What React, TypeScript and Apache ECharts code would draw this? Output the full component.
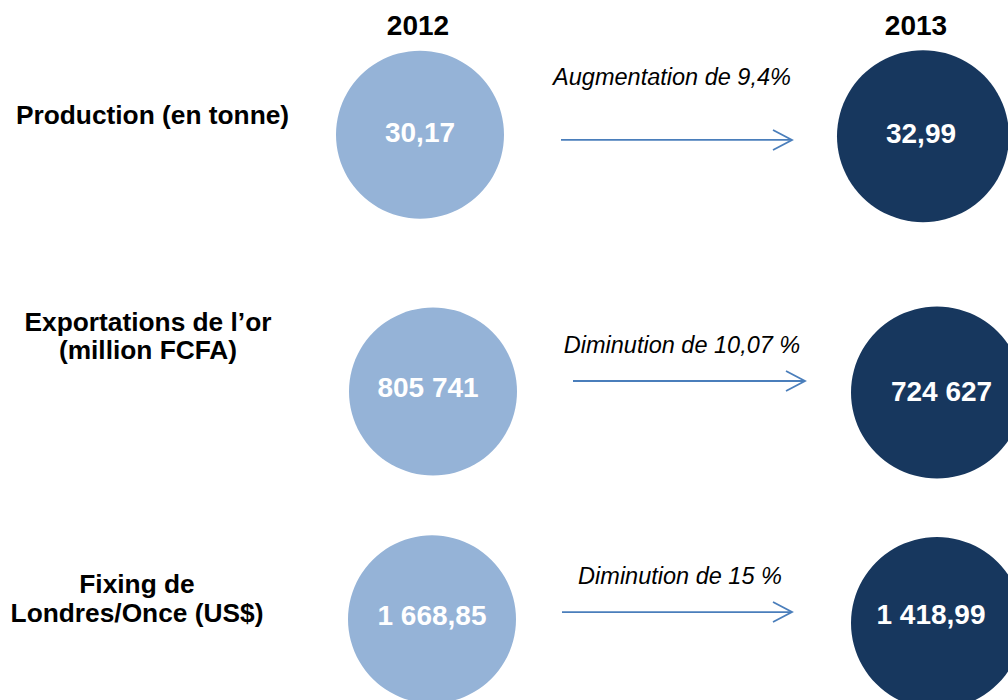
import React, { useEffect, useRef } from "react";
import * as echarts from "echarts";

// ---- data ----
const years = ["2012", "2013"];
const indicators = [
  "Production (en tonne)",
  "Exportations de l’or\n(million FCFA)",
  "Fixing de\nLondres/Once (US$)",
];
const values2012 = [30.17, 805741, 1668.85];
const values2013 = [32.99, 724627, 1418.99];
const decimals = [2, 0, 2];
const changeLabels = [
  "Augmentation de 9,4%",
  "Diminution de 10,07 %",
  "Diminution de 15 %",
];

// ---- layout / style ----
const FONT = "'Liberation Sans', Arial, Helvetica, sans-serif";
const LIGHT = "#95B3D7";
const DARK = "#17375E";
const ARROW = "#4A7EBB";
const offsets2012 = [[-12.5, 0], [0.5, 13.5], [-0.5, -2]];
const offsets2013 = [[-14.5, 1.5], [-0.5, 14.5], [-0.5, 1.7]];
const labelOff2012 = [[0, -2], [-5, -4], [0, -4]];
const labelOff2013 = [[-2, -3], [4.5, -1], [-6, -9]];
const arrowLayout = [
  { x0: 128.5, x1: 359.5, ay: 5.3, tx: 239.5, ty: -57.7, lx: -280, ly: -19.7 },
  { x0: 140.5, x1: 372.5, ay: 3, tx: 249.5, ty: -33, lx: -284.5, ly: -42 },
  { x0: 129.5, x1: 359.5, ay: -9.3, tx: 247.5, ty: -45.3, lx: -295.5, ly: -22.8 },
];
const yearPad = [
  [0, 29, 0, 0],
  [0, 43, 0, 0],
];

function frNum(v: number, d: number): string {
  const s = v.toFixed(d);
  const parts = s.split(".");
  const intS = parts[0].replace(/\B(?=(\d{3})+(?!\d))/g, " ");
  return parts[1] ? intS + "," + parts[1] : intS;
}

function circleSeries(vals: number[], yearIdx: number, size: number, color: string, offs: number[][], lOffs: number[][]) {
  return {
    type: "scatter",
    clip: false,
    z: 2,
    symbol: "circle",
    symbolSize: size,
    itemStyle: { color, opacity: 1 },
    label: {
      show: true,
      position: "inside",
      color: "#ffffff",
      fontFamily: FONT,
      fontWeight: "bold",
      fontSize: 28,
      formatter: (p: any) => frNum(p.value[2], decimals[p.value[1]]),
    },
    data: vals.map((v, i) => ({
      value: [yearIdx, i, v],
      symbolOffset: offs[i],
      label: { offset: lOffs[i] },
    })),
  };
}

export default function App() {
  const ref = useRef<HTMLDivElement>(null);
  useEffect(() => {
    if (!ref.current) return;
    const chart = echarts.init(ref.current, null, { renderer: "svg" });
    const option: any = {
      animation: false,
      backgroundColor: "#ffffff",
      grid: { left: 180, top: 13, width: 1010, height: 730, containLabel: false, outerBoundsMode: "none" },
      xAxis: {
        type: "category",
        position: "top",
        data: years.map((y, i) => ({ value: y, textStyle: { padding: yearPad[i], align: "center", verticalAlign: "middle" } })),
        boundaryGap: true,
        axisLine: { show: false },
        axisTick: { show: false },
        splitLine: { show: false },
        axisLabel: {
          margin: -12,
          align: "center",
          verticalAlign: "middle",
          color: "#000",
          fontFamily: FONT,
          fontWeight: "bold",
          fontSize: 28,
        },
      },
      yAxis: {
        type: "category",
        inverse: true,
        data: indicators,
        axisLine: { show: false },
        axisTick: { show: false },
        splitLine: { show: false },
        axisLabel: { show: false },
      },
      series: [
        circleSeries(values2012, 0, 168, LIGHT, offsets2012, labelOff2012),
        circleSeries(values2013, 1, 172, DARK, offsets2013, labelOff2013),
        {
          type: "custom",
          clip: false,
          z: 5,
          data: indicators.map((t, i) => [0, i]),
          encode: { x: 0, y: 1 },
          renderItem: (params: any, api: any) => {
            const row = api.value(1);
            const c = api.coord([api.value(0), row]);
            const L = arrowLayout[row];
            const y = c[1] + L.ay;
            const xa = c[0] + L.x0;
            const xb = c[0] + L.x1;
            return {
              type: "group",
              children: [
                {
                  type: "text",
                  x: c[0] + L.lx,
                  y: c[1] + L.ly,
                  style: {
                    text: indicators[row],
                    fill: "#000",
                    font: "bold 26.3px " + FONT,
                    lineHeight: 28.5,
                    align: "center",
                    verticalAlign: "middle",
                  },
                },
                {
                  type: "line",
                  shape: { x1: xa, y1: y, x2: xb, y2: y },
                  style: { stroke: ARROW, lineWidth: 1.8 },
                },
                {
                  type: "polyline",
                  shape: { points: [[xb - 19, y - 10], [xb, y], [xb - 19, y + 10]] },
                  style: { stroke: ARROW, lineWidth: 1.8, fill: null },
                },
                {
                  type: "text",
                  x: c[0] + L.tx,
                  y: c[1] + L.ty,
                  style: {
                    text: changeLabels[row],
                    fill: "#000",
                    font: "italic 23.5px " + FONT,
                    align: "center",
                    verticalAlign: "middle",
                  },
                },
              ],
            };
          },
        },
      ],
    };
    chart.setOption(option);
    return () => chart.dispose();
  }, []);
  return (
    <div
      ref={ref}
      style={{ position: "absolute", left: 0, top: 0, width: 1008, height: 700 }}
    />
  );
}
